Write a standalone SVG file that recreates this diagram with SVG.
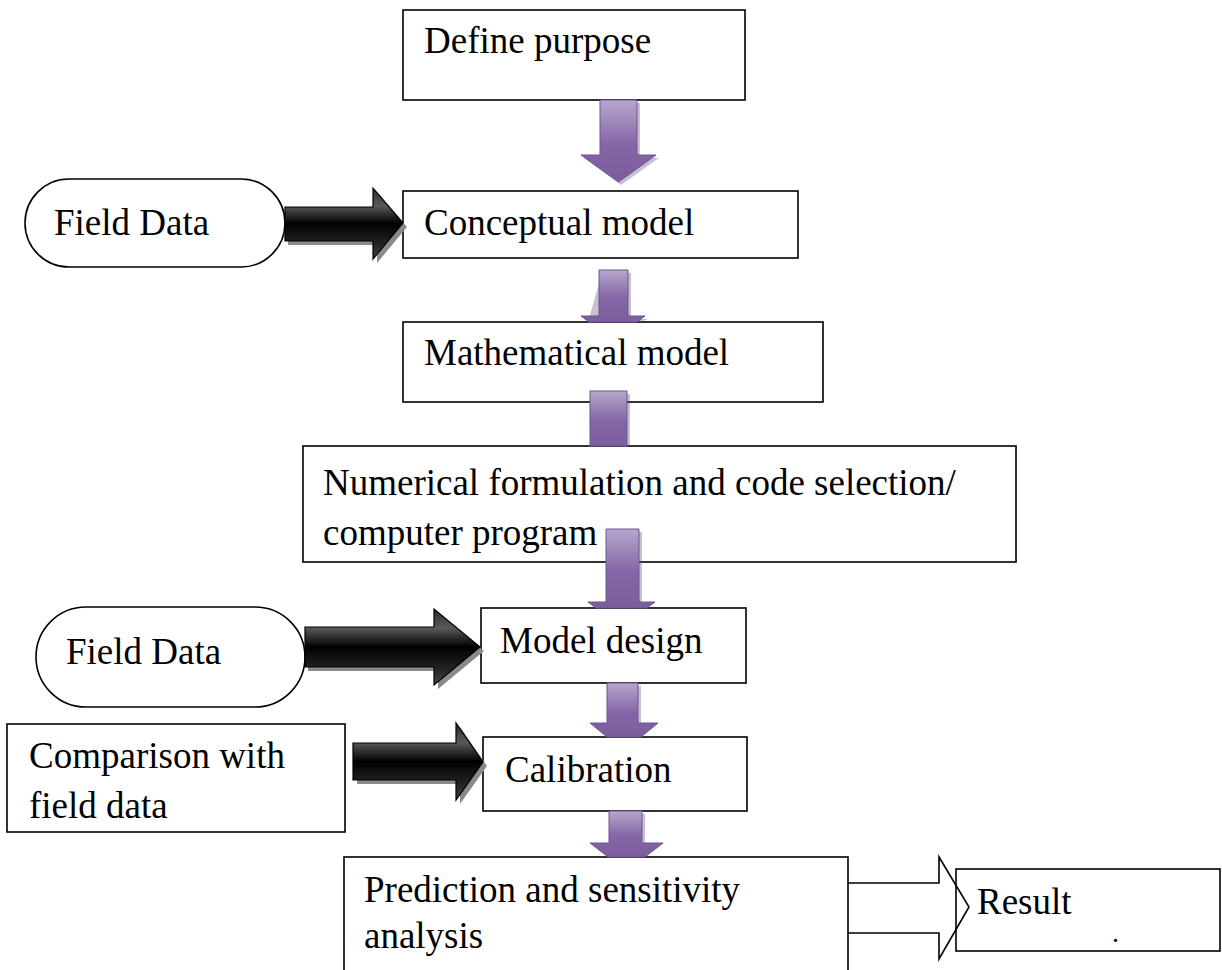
<svg xmlns="http://www.w3.org/2000/svg" width="1222" height="970" viewBox="0 0 1222 970">
<style>
.box{fill:#fff;stroke:#000;stroke-width:1.6}
.t{font-family:"Liberation Serif","Times New Roman",serif;font-size:37px;fill:#000}
.pa{fill:url(#pg);stroke:#6f5592;stroke-width:1}
.psh{fill:#5e4a7c;opacity:0.35}
.ba{fill:url(#bg);stroke:#000;stroke-width:1.2}
.bsh{fill:#8a8a8a}
</style>
<defs>
<linearGradient id="pg" x1="0" y1="0" x2="0" y2="1">
<stop offset="0" stop-color="#b6a7cd"/>
<stop offset="0.55" stop-color="#8465a6"/>
<stop offset="1" stop-color="#7b5e9d"/>
</linearGradient>
<linearGradient id="bg" x1="0" y1="0" x2="0" y2="1">
<stop offset="0" stop-color="#2a2a2a"/>
<stop offset="0.25" stop-color="#5a5a5a"/>
<stop offset="0.5" stop-color="#000"/>
<stop offset="0.85" stop-color="#2b2b2b"/>
<stop offset="1" stop-color="#4a4a4a"/>
</linearGradient>
</defs>

<g id="n-define"><rect class="box" x="403" y="10" width="342" height="90"/><text class="t" x="424" y="53">Define purpose</text></g>
<g id="n-conceptual"><rect class="box" x="403" y="191" width="395" height="67"/><text class="t" x="424" y="235">Conceptual model</text></g>
<g id="n-field1"><rect class="box" x="25" y="179" width="260" height="88" rx="44" ry="44"/><text class="t" x="54" y="235">Field Data</text></g>
<g id="n-math"><rect class="box" x="403" y="322" width="420" height="80"/><text class="t" x="424" y="365">Mathematical model</text></g>
<g id="n-numerical"><rect class="box" x="303" y="446" width="713" height="116"/><text class="t" x="323" y="495">Numerical formulation and code selection/</text><text class="t" x="323" y="545">computer program</text></g>
<g id="n-field2"><rect class="box" x="36" y="607" width="269" height="100" rx="50" ry="50"/><text class="t" x="66" y="664">Field Data</text></g>
<g id="n-design"><rect class="box" x="481" y="608" width="265" height="75"/><text class="t" x="500" y="653">Model design</text></g>
<g id="n-comparison"><rect class="box" x="7" y="724" width="338" height="108"/><text class="t" x="29" y="768">Comparison with</text><text class="t" x="29" y="818">field data</text></g>
<g id="n-calibration"><rect class="box" x="483" y="737" width="264" height="74"/><text class="t" x="505" y="782">Calibration</text></g>
<g id="n-prediction"><rect class="box" x="344" y="857" width="504" height="140"/><text class="t" x="364" y="902">Prediction and sensitivity</text><text class="t" x="364" y="948">analysis</text></g>
<g id="n-result"><rect class="box" x="956" y="869" width="264" height="82"/><text class="t" x="977" y="914">Result</text><text class="t" x="1112" y="942" style="font-size:28px">.</text></g>

<g id="connectors">
<polygon class="psh" points="603,103 640,103 640,158 659,158 621,185 584,158 603,158"/>
<polygon class="pa" points="600,100 637,100 637,155 656,155 618.5,182 581,155 600,155"/>
<polygon class="psh" points="602,273 631,273 631,319 648,319 641,322 588,322"/>
<polygon class="pa" points="599,270 628,270 628,316 645,316 637,322 589,322 581,316 599,316"/>
<rect class="psh" x="593" y="394" width="37" height="52"/>
<rect class="pa" x="590" y="391" width="37" height="55"/>
<rect class="psh" x="609" y="532" width="33" height="73"/>
<polygon class="pa" points="606,529 639,529 639,602 655,602 647,608 596,608 588,602 606,602"/>
<rect class="psh" x="610" y="686" width="31" height="40"/>
<polygon class="pa" points="607,683 638,683 638,723 658,723 641,737 607,737 590,723 607,723"/>
<rect class="psh" x="612" y="814" width="33" height="32"/>
<polygon class="pa" points="609,811 642,811 642,843 663,843 645,857 608,857 590,843 609,843"/>

<polygon class="bsh" points="288,211 377,211 377,192 407,227 377,263 377,245 288,245"/>
<polygon class="ba" points="285,207 373,207 373,188 403,223 373,259 373,241 285,241"/>
<polygon class="bsh" points="308,631 438,631 438,613 484,651 438,689 438,671 308,671"/>
<polygon class="ba" points="305,627 434,627 434,609 480,647 434,685 434,667 305,667"/>
<polygon class="bsh" points="357,747 460,747 460,727 487,766 460,804 460,784 357,784"/>
<polygon class="ba" points="353,743 456,743 456,723 483,762 456,800 456,780 353,780"/>

<path d="M848,883 H939 V857 L969,907 L939,959 V933 H848" fill="none" stroke="#000" stroke-width="1.6"/>
</g>
</svg>
